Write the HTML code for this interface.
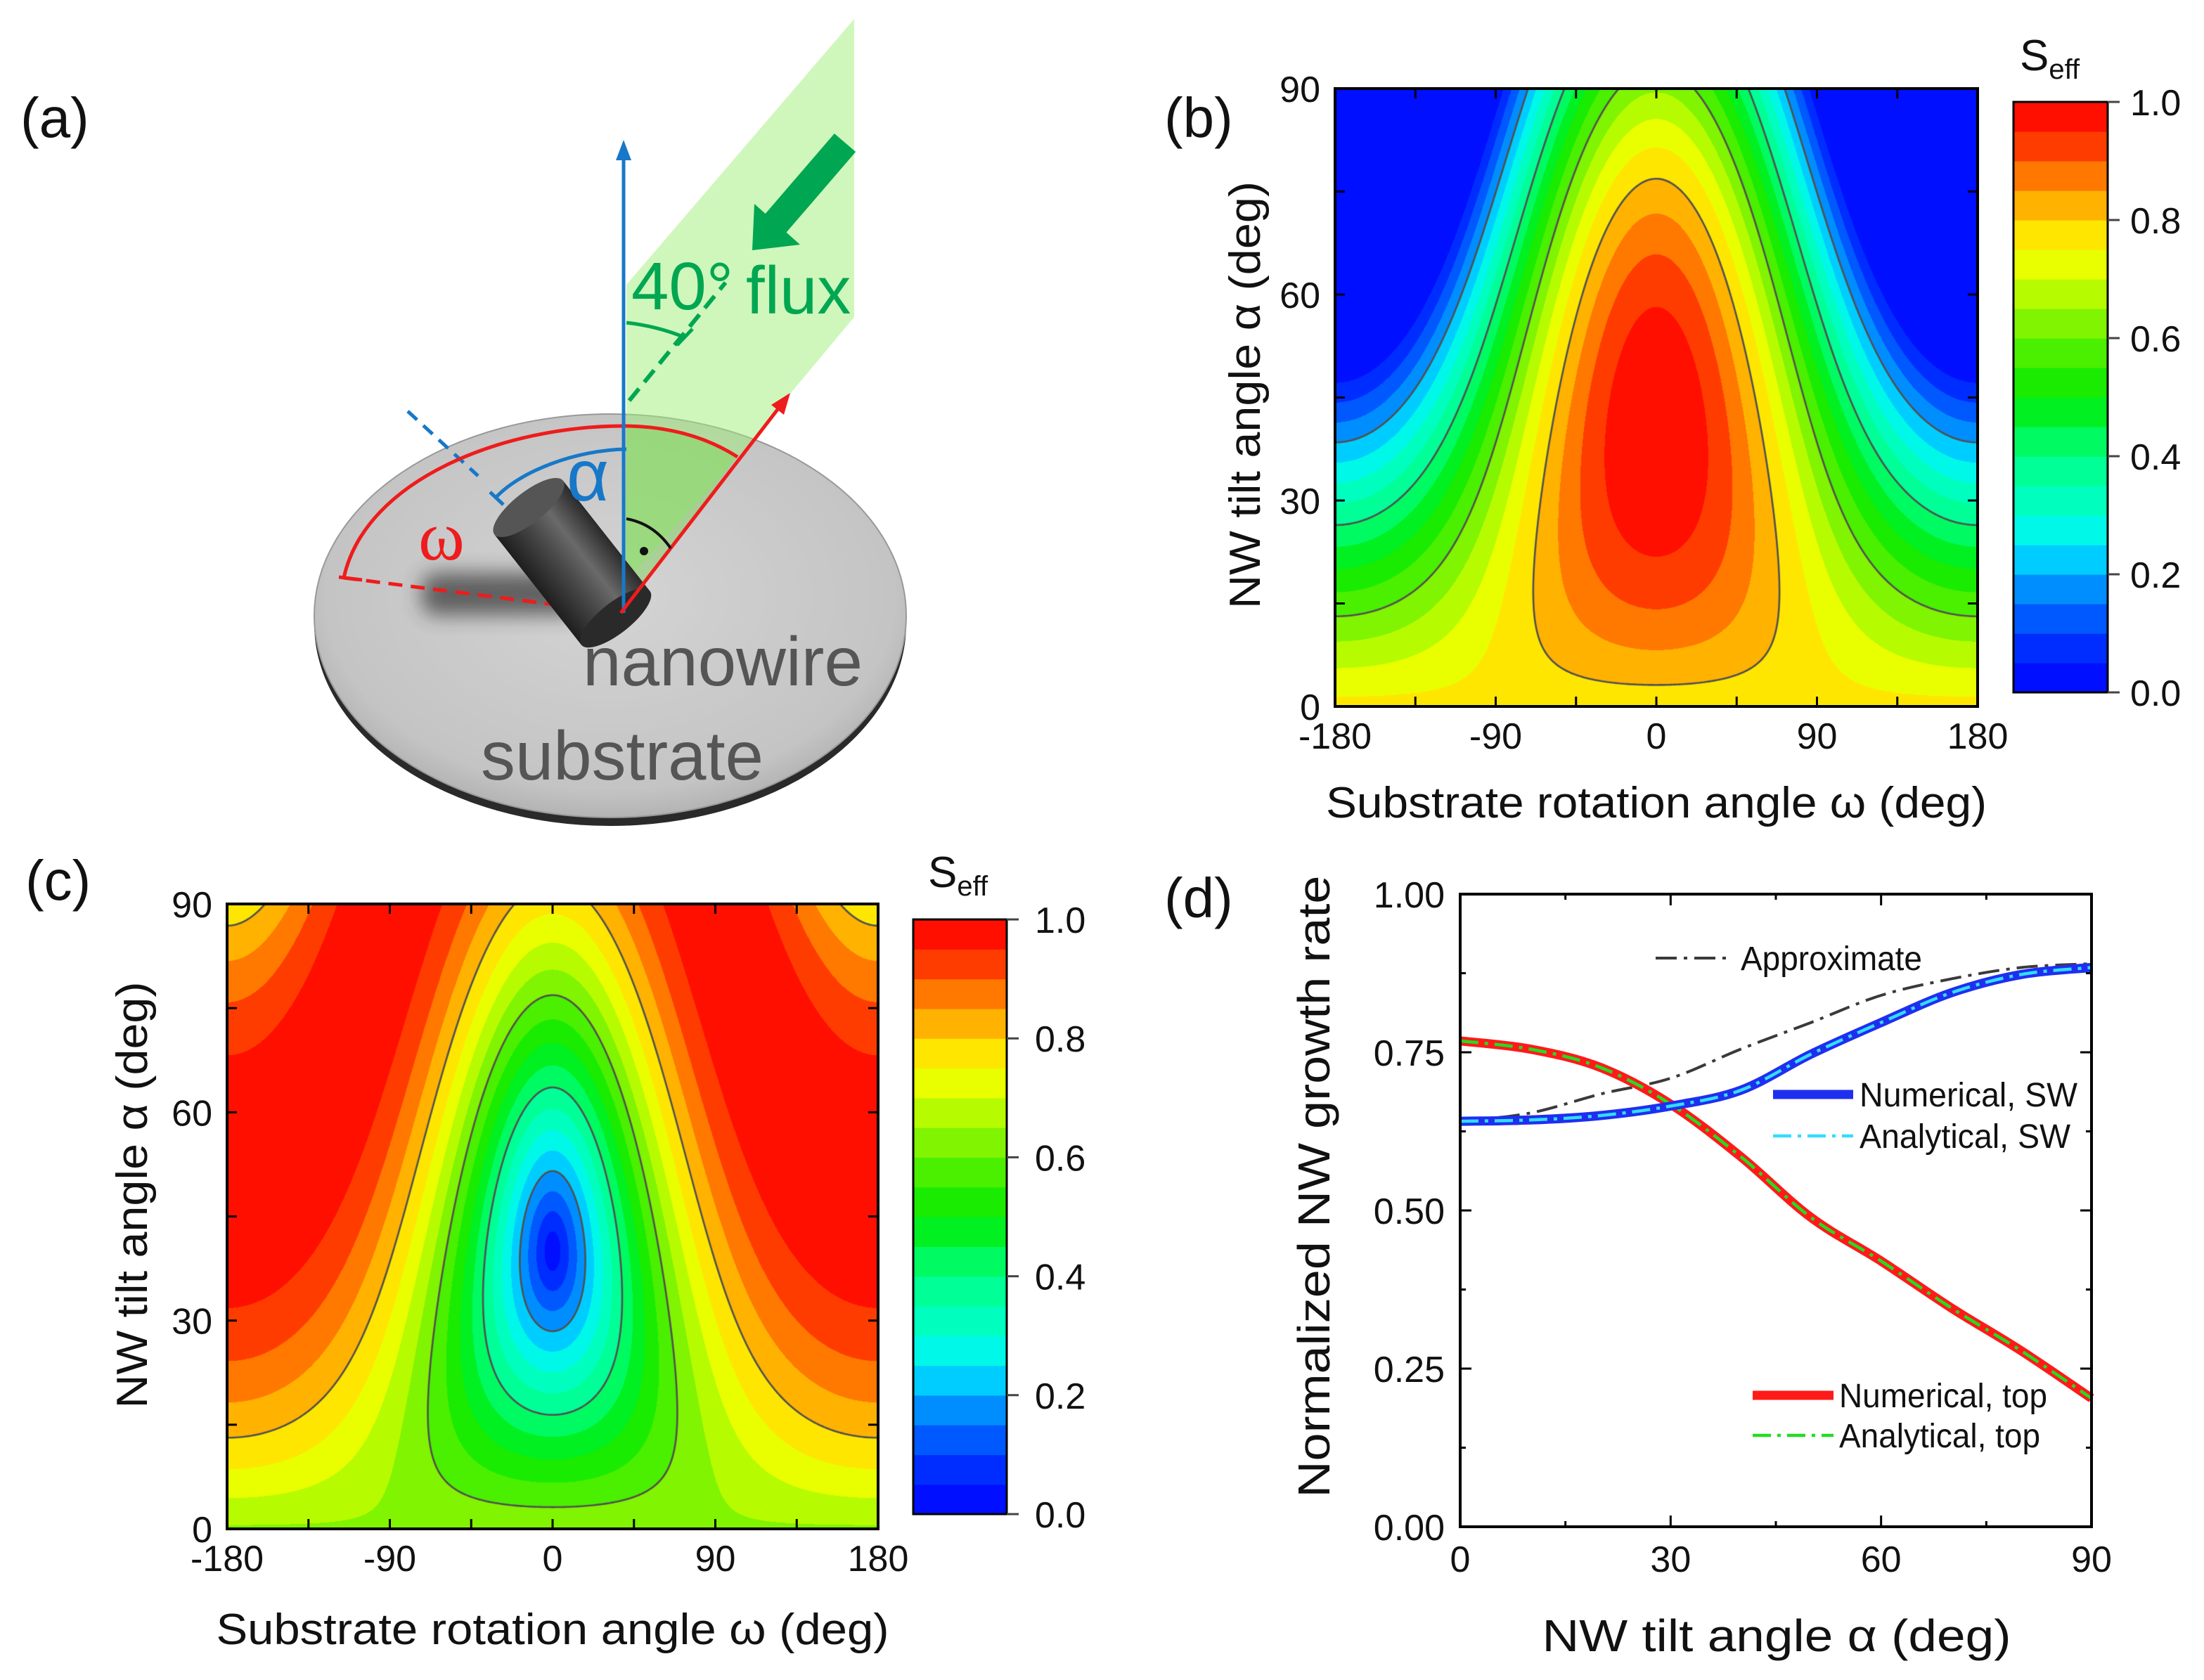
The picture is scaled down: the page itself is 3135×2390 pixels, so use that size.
<!DOCTYPE html>
<html><head><meta charset="utf-8">
<style>
html,body{margin:0;padding:0;background:#fff;}
#root{position:relative;width:3135px;height:2390px;overflow:hidden;background:#fff;}
canvas{position:absolute;}
#fig{position:absolute;left:0;top:0;}
text{font-family:"Liberation Sans",sans-serif;}
</style></head>
<body>
<div id="root">
<canvas id="hb" width="914" height="879" style="left:1899px;top:126px"></canvas>
<canvas id="hc" width="926" height="889" style="left:323px;top:1286px"></canvas>
<svg id="fig" width="3135" height="2390" viewBox="0 0 3135 2390">
<defs>
<radialGradient id="diskGrad" cx="0.5" cy="0.45" r="0.6">
<stop offset="0" stop-color="#d4d4d4"/><stop offset="0.8" stop-color="#c4c4c4"/><stop offset="1" stop-color="#a8a8a8"/>
</radialGradient>
<linearGradient id="cylGrad" x1="0" y1="0" x2="0" y2="1">
<stop offset="0" stop-color="#2a2a2a"/><stop offset="0.35" stop-color="#6a6a6a"/><stop offset="0.6" stop-color="#4a4a4a"/><stop offset="1" stop-color="#1e1e1e"/>
</linearGradient>
<filter id="blur" x="-50%" y="-50%" width="200%" height="200%"><feGaussianBlur stdDeviation="14"/></filter>
</defs>

<g>
<text x="29" y="195" font-size="80" fill="#111">(a)</text>
<ellipse cx="868" cy="888" rx="421" ry="287" fill="#2a2a2a"/>
<ellipse cx="868" cy="876" rx="421" ry="287" fill="url(#diskGrad)" stroke="#999" stroke-width="2"/>
<rect x="600" y="815" width="230" height="60" rx="20" fill="#333" opacity="0.7" filter="url(#blur)"/>
<polygon points="891,405 1215,27 1215,451 1049,650 891,826" fill="rgba(160,240,120,0.5)"/>
<path d="M891,608 C960,610 1010,625 1049,650 L887,872 Z" fill="rgba(120,210,80,0.45)"/>
<line x1="489" y1="822" x2="883" y2="872" stroke="#ee1c1c" stroke-width="5" stroke-dasharray="20 12"/>
<line x1="580" y1="585" x2="680" y2="677" stroke="#1878c8" stroke-width="5" stroke-dasharray="18 12"/>
<line x1="895" y1="570" x2="1032" y2="402" stroke="#00a651" stroke-width="6" stroke-dasharray="22 12"/>
<path d="M489,822 C520,680 720,605 891,606 C960,607 1010,625 1049,650" fill="none" stroke="#ee1c1c" stroke-width="5"/>
<line x1="482" y1="821" x2="515" y2="825" stroke="#ee1c1c" stroke-width="5"/>
<path d="M705,708 C740,670 820,640 891,639" fill="none" stroke="#1878c8" stroke-width="5"/>
<line x1="697" y1="700" x2="716" y2="718" stroke="#1878c8" stroke-width="5"/>
<path d="M891,459 Q935,464 974,480" fill="none" stroke="#00a651" stroke-width="5"/>
<line x1="963" y1="491" x2="985" y2="468" stroke="#00a651" stroke-width="5"/>
<g transform="translate(752,722) rotate(51.8)">
<rect x="0" y="-62" width="200" height="124" fill="url(#cylGrad)"/>
<ellipse cx="200" cy="0" rx="22" ry="62" fill="#2a2a2a"/>
<ellipse cx="0" cy="0" rx="22" ry="62" fill="#555"/>
</g>
<line x1="887" y1="872" x2="887" y2="222" stroke="#1878c8" stroke-width="5"/>
<polygon points="887,199 876,228 898,228" fill="#1878c8"/>
<line x1="883" y1="872" x2="1108" y2="580" stroke="#ee1c1c" stroke-width="5"/>
<polygon points="1124,559 1115,590 1097,576" fill="#ee1c1c"/>
<path d="M891,738 Q930,745 954,780" fill="none" stroke="#111" stroke-width="4"/>
<circle cx="916" cy="784" r="6" fill="#111"/>
<line x1="1202" y1="203" x2="1103" y2="318" stroke="#00a651" stroke-width="40"/>
<polygon points="1070,356 1138,348 1073,290" fill="#00a651"/>
<text x="898" y="440" font-size="96" fill="#00a651">40°</text>
<text x="1061" y="446" font-size="96" fill="#00a651">flux</text>
<text x="806" y="712" font-size="104" fill="#1878c8">α</text>
<text x="595" y="796" font-size="100" fill="#ee1c1c" style="font-family:'Liberation Serif',serif">ω</text>
<text x="829" y="975" font-size="98" fill="#555" textLength="398" lengthAdjust="spacingAndGlyphs">nanowire</text>
<text x="684" y="1109" font-size="98" fill="#555" textLength="402" lengthAdjust="spacingAndGlyphs">substrate</text>
</g>

<text x="1656" y="195" font-size="80" fill="#111">(b)</text>
<text x="36" y="1280" font-size="80" fill="#111">(c)</text>
<text x="1656" y="1305" font-size="80" fill="#111">(d)</text>
<g id="gb"></g>
<g id="gc"></g>
<g id="gd"></g>
</svg>
</div>
<script>
const fluxAngleDeg = [40];
const omegaRange = [-180, 180];
const alphaRange = [0, 90];
const omegaTickValues = [-180, -90, 0, 90, 180];
const omegaTickLabels = ['-180', '-90', '0', '90', '180'];
const omegaMinorTicks = [-135, -45, 45, 135];
const alphaTickValues = [0, 30, 60, 90];
const alphaTickLabels = ['0', '30', '60', '90'];
const alphaMinorTicks = [15, 45, 75];
const cbTickValues = [0, 0.2, 0.4, 0.6, 0.8, 1.0];
const cbTickLabels = ['0.0', '0.2', '0.4', '0.6', '0.8', '1.0'];
const contourLevels = [0.2, 0.4, 0.6, 0.8];
const nLevels = [20];

const dAlpha = [0, 10, 20, 30, 40, 50, 60, 70, 80, 90];
const numTop = [0.768, 0.755, 0.726, 0.668, 0.585, 0.489, 0.42, 0.346, 0.278, 0.203];
const anaTop = [0.768, 0.755, 0.726, 0.668, 0.585, 0.489, 0.42, 0.346, 0.278, 0.203];
const numSW = [0.641, 0.643, 0.65, 0.665, 0.69, 0.747, 0.797, 0.844, 0.873, 0.884];
const anaSW = [0.641, 0.643, 0.65, 0.665, 0.69, 0.747, 0.797, 0.844, 0.873, 0.884];
const approxSW = [0.641, 0.654, 0.684, 0.709, 0.755, 0.797, 0.84, 0.866, 0.884, 0.89];
const dYTicks = [0, 0.25, 0.5, 0.75, 1.0];
const dYTickLabels = ['0.00', '0.25', '0.50', '0.75', '1.00'];
const dYMinor = [0.125, 0.375, 0.625, 0.875];
const dXTicks = [0, 30, 60, 90];
const dXTickLabels = ['0', '30', '60', '90'];
const dXMinor = [15, 45, 75];

const NS = 'http://www.w3.org/2000/svg';
const anchors = [[0,0,0,255],[0.1,0,60,255],[0.2,0,170,255],[0.25,0,240,255],[0.3,0,255,210],[0.4,0,255,130],[0.5,0,235,0],[0.6,100,240,0],[0.7,210,255,0],[0.75,255,255,0],[0.8,255,205,0],[0.85,255,150,0],[0.9,255,90,0],[0.95,255,30,0],[1,255,0,0]];
function cmap(v){
  for(let i=1;i<anchors.length;i++){
    if(v<=anchors[i][0]){const a=anchors[i-1],b=anchors[i];const t=(v-a[0])/(b[0]-a[0]);
      return [0,1,2].map(k=>Math.round(a[k+1]+(b[k+1]-a[k+1])*t));}
  }
  return [255,0,0];
}
const NL = nLevels[0];
const bandColors = [];
for(let i=0;i<NL;i++) bandColors.push(cmap((i+0.5)/NL));

const rad = Math.PI/180;
function cosTheta(alpha, omega){
  const f = fluxAngleDeg[0]*rad;
  return Math.sin(alpha*rad)*Math.sin(f)*Math.cos(omega*rad) + Math.cos(alpha*rad)*Math.cos(f);
}
function topEff(a,o){ return Math.max(0, cosTheta(a,o)); }
function swEff(a,o){ const c=cosTheta(a,o); return Math.sqrt(Math.max(0,1-c*c)); }

function el(tag, attrs, parent){
  const e=document.createElementNS(NS,tag);
  for(const k in attrs) e.setAttribute(k, attrs[k]);
  if(parent) parent.appendChild(e);
  return e;
}
function txt(parent, x, y, s, size, anchor, extra){
  const t=el('text',{x:x,y:y,'font-size':size,'text-anchor':anchor||'start',fill:'#111'},parent);
  if(extra) for(const k in extra) t.setAttribute(k, extra[k]);
  t.textContent=s;
  return t;
}

function drawHeatmap(canvasId, fn){
  const cv=document.getElementById(canvasId), ctx=cv.getContext('2d');
  const W=cv.width, H=cv.height;
  const xToOmega = x => omegaRange[0] + (x/W)*(omegaRange[1]-omegaRange[0]);
  const yToAlpha = y => alphaRange[1] - (y/H)*(alphaRange[1]-alphaRange[0]);
  const img=ctx.createImageData(W,H);
  for(let y=0;y<H;y++){
    const a=yToAlpha(y+0.5);
    for(let x=0;x<W;x++){
      const v=fn(a, xToOmega(x+0.5));
      let lv=Math.floor(v*NL); if(lv>NL-1) lv=NL-1; if(lv<0) lv=0;
      const c=bandColors[lv], i=(y*W+x)*4;
      img.data[i]=c[0]; img.data[i+1]=c[1]; img.data[i+2]=c[2]; img.data[i+3]=255;
    }
  }
  ctx.putImageData(img,0,0);
  const step=3, nx=Math.ceil(W/step), ny=Math.ceil(H/step);
  const g=[];
  for(let j=0;j<=ny;j++){const row=[];for(let i=0;i<=nx;i++){row.push(fn(yToAlpha(Math.min(H,j*step)), xToOmega(Math.min(W,i*step))));}g.push(row);}
  ctx.strokeStyle='#505050'; ctx.lineWidth=2.6; ctx.lineCap='round';
  for(const L of contourLevels){
    ctx.beginPath();
    for(let j=0;j<ny;j++)for(let i=0;i<nx;i++){
      const tl=g[j][i],tr=g[j][i+1],br=g[j+1][i+1],bl=g[j+1][i];
      const code=(tl>L?8:0)|(tr>L?4:0)|(br>L?2:0)|(bl>L?1:0);
      if(code===0||code===15) continue;
      const x0=i*step,y0=j*step;
      const T=[x0+step*(L-tl)/(tr-tl),y0], R=[x0+step,y0+step*(L-tr)/(br-tr)];
      const B=[x0+step*(L-bl)/(br-bl),y0+step], Lf=[x0,y0+step*(L-tl)/(bl-tl)];
      const segs={1:[[Lf,B]],2:[[B,R]],3:[[Lf,R]],4:[[T,R]],5:[[Lf,T],[B,R]],6:[[T,B]],7:[[Lf,T]],8:[[Lf,T]],9:[[T,B]],10:[[T,R],[Lf,B]],11:[[T,R]],12:[[Lf,R]],13:[[B,R]],14:[[Lf,B]]}[code];
      for(const s of segs){ctx.moveTo(s[0][0],s[0][1]);ctx.lineTo(s[1][0],s[1][1]);}
    }
    ctx.stroke();
  }
}

function drawMapAxes(gid, P){
  const g=document.getElementById(gid);
  const sx=o=>P.x0+(o-omegaRange[0])/(omegaRange[1]-omegaRange[0])*P.w;
  const sy=a=>P.y0+P.h-(a-alphaRange[0])/(alphaRange[1]-alphaRange[0])*P.h;
  const tl=14;
  const allO=omegaTickValues.concat(omegaMinorTicks), allA=alphaTickValues.concat(alphaMinorTicks);
  for(const o of allO){
    const x=sx(o);
    const t1=el('line',{x1:x,y1:P.y0+P.h,x2:x,y2:P.y0+P.h-tl,stroke:'#000','stroke-width':3},g);
     
    const t2=el('line',{x1:x,y1:P.y0,x2:x,y2:P.y0+tl,stroke:'#000','stroke-width':3},g);
     
  }
  for(const a of allA){
    const y=sy(a);
    const t1=el('line',{x1:P.x0,y1:y,x2:P.x0+tl,y2:y,stroke:'#000','stroke-width':3},g);
     
    const t2=el('line',{x1:P.x0+P.w,y1:y,x2:P.x0+P.w-tl,y2:y,stroke:'#000','stroke-width':3},g);
     
  }
  const fr=el('rect',{x:P.x0,y:P.y0,width:P.w,height:P.h,fill:'none',stroke:'#000','stroke-width':4},g);
   
  omegaTickValues.forEach((o,i)=>{
    const t=txt(g,sx(o),P.y0+P.h+60,omegaTickLabels[i],52,'middle');
     
  });
  alphaTickValues.forEach((a,i)=>{
    const t=txt(g,P.x0-21,sy(a)+19,alphaTickLabels[i],52,'end');
     
  });
  const xt=txt(g,P.x0+P.w/2,P.xTitleY,'Substrate rotation angle ω (deg)',62,'middle',{textLength:P.xTitleLen,lengthAdjust:'spacingAndGlyphs'});
   
  const yt=txt(g,P.yTitleX,P.yTitleCy+22,'NW tilt angle α (deg)',62,'middle',{textLength:P.yTitleLen,lengthAdjust:'spacingAndGlyphs',transform:'rotate(-90 '+P.yTitleX+' '+P.yTitleCy+')'});
   
  const C=P.cb;
  const cy=v=>C.y+C.h-v*C.h;
  for(let i=0;i<NL;i++){
    const c=bandColors[i];
    const r=el('rect',{x:C.x,y:cy((i+1)/NL),width:C.w,height:C.h/NL+0.6,fill:'rgb('+c.join(',')+')'},g);
     
  }
  const cf=el('rect',{x:C.x,y:C.y,width:C.w,height:C.h,fill:'none',stroke:'#000','stroke-width':3},g);
   
  cbTickValues.forEach((v,i)=>{
    const l=el('line',{x1:C.x+C.w,y1:cy(v),x2:C.x+C.w+17,y2:cy(v),stroke:'#444','stroke-width':3},g);
     
    const t=txt(g,C.labelX,cy(v)+19,cbTickLabels[i],52,'start');
     
  });
  const st=txt(g,C.titleX,C.titleY,'S',62,'start');
   
  const sub=el('tspan',{'font-size':40,dy:12},st); sub.textContent='eff';
}

drawHeatmap('hb', topEff);
drawHeatmap('hc', swEff);
drawMapAxes('gb',{x0:1899,y0:126,w:914,h:879,xTitleY:1163,xTitleLen:940,yTitleX:1770,yTitleCy:562,yTitleLen:608,
  cb:{x:2864,y:145,w:134,h:840,labelX:3030,titleX:2873,titleY:100}});
drawMapAxes('gc',{x0:323,y0:1286,w:926,h:889,xTitleY:2339,xTitleLen:957,yTitleX:187,yTitleCy:1700,yTitleLen:607,
  cb:{x:1299,y:1308,w:133,h:846,labelX:1472,titleX:1320,titleY:1262}});

(function(){
  const g=document.getElementById('gd');
  const X0=2077,X1=2975,Y0=1272,Y1=2172;
  const sx=a=>X0+(a-0)/90*(X1-X0);
  const sy=v=>Y1-(v-0)/1*(Y1-Y0);
  function pathFrom(xs, ys){
    const p=xs.map((x,i)=>[sx(x),sy(ys[i])]);
    let d='M'+p[0][0].toFixed(1)+','+p[0][1].toFixed(1);
    for(let i=0;i<p.length-1;i++){
      const p0=p[Math.max(0,i-1)],p1=p[i],p2=p[i+1],p3=p[Math.min(p.length-1,i+2)];
      const c1=[p1[0]+(p2[0]-p0[0])/6,p1[1]+(p2[1]-p0[1])/6], c2=[p2[0]-(p3[0]-p1[0])/6,p2[1]-(p3[1]-p1[1])/6];
      d+=' C'+c1[0].toFixed(1)+','+c1[1].toFixed(1)+' '+c2[0].toFixed(1)+','+c2[1].toFixed(1)+' '+p2[0].toFixed(1)+','+p2[1].toFixed(1);
    }
    return d;
  }
  const series=[
    {ys:approxSW,stroke:'#3a3a3a',w:4,dash:'30 10 5 10',name:'approximate-line'},
    {ys:numTop,stroke:'#ff1a1a',w:13,dash:'',name:'numerical-top-line'},
    {ys:anaTop,stroke:'#22dd22',w:4.5,dash:'26 9 5 9',name:'analytical-top-line'},
    {ys:numSW,stroke:'#1f2ff0',w:13,dash:'',name:'numerical-sw-line'},
    {ys:anaSW,stroke:'#33ddff',w:4.5,dash:'26 9 5 9',name:'analytical-sw-line'}
  ];
  for(const s of series){
    const p=el('path',{d:pathFrom(dAlpha,s.ys),fill:'none',stroke:s.stroke,'stroke-width':s.w,'stroke-linecap':'butt','stroke-dasharray':s.dash||'none'},g);
    
    
  }
  const ticks=(vals,len,isY)=>{
    for(const v of vals){
      if(isY){
        const y=sy(v);
        const a=el('line',{x1:X0,y1:y,x2:X0+len,y2:y,stroke:'#000','stroke-width':3},g);
         
        const b=el('line',{x1:X1,y1:y,x2:X1-len,y2:y,stroke:'#000','stroke-width':3},g);
         
      } else {
        const x=sx(v);
        const a=el('line',{x1:x,y1:Y1,x2:x,y2:Y1-len,stroke:'#000','stroke-width':3},g);
         
        const b=el('line',{x1:x,y1:Y0,x2:x,y2:Y0+len,stroke:'#000','stroke-width':3},g);
         
      }
    }
  };
  ticks(dYTicks,16,true); ticks(dYMinor,8,true); ticks(dXTicks,16,false); ticks(dXMinor,8,false);
  const fr=el('rect',{x:X0,y:Y0,width:X1-X0,height:Y1-Y0,fill:'none',stroke:'#000','stroke-width':4},g);
   
  dYTicks.forEach((v,i)=>{const t=txt(g,2055,sy(v)+19,dYTickLabels[i],52,'end');
     });
  dXTicks.forEach((v,i)=>{const t=txt(g,sx(v),2236,dXTickLabels[i],52,'middle');
     });
  const xt=txt(g,2527,2349,'NW tilt angle α (deg)',64,'middle',{textLength:667,lengthAdjust:'spacingAndGlyphs'});
   
  const yt=txt(g,1869,1688+22,'Normalized NW growth rate',64,'middle',{textLength:885,lengthAdjust:'spacingAndGlyphs',transform:'rotate(-90 1869 1688)'});
   
  const leg=[
    {x1:2355,x2:2465,y:1363,stroke:'#3a3a3a',w:4,dash:'30 10 5 10',tx:2476,label:'Approximate',len:258},
    {x1:2522,x2:2636,y:1557,stroke:'#1f2ff0',w:13,dash:'',tx:2645,label:'Numerical, SW',len:310},
    {x1:2522,x2:2636,y:1616,stroke:'#33ddff',w:4.5,dash:'26 9 5 9',tx:2645,label:'Analytical, SW',len:300},
    {x1:2493,x2:2608,y:1985,stroke:'#ff1a1a',w:13,dash:'',tx:2616,label:'Numerical, top',len:296},
    {x1:2493,x2:2608,y:2042,stroke:'#22dd22',w:4.5,dash:'26 9 5 9',tx:2616,label:'Analytical, top',len:286}
  ];
  for(const L of leg){
    const l=el('line',{x1:L.x1,y1:L.y,x2:L.x2,y2:L.y,stroke:L.stroke,'stroke-width':L.w,'stroke-dasharray':L.dash||'none'},g);
    
    
    const t=txt(g,L.tx,L.y+17,L.label,48,'start',{textLength:L.len,lengthAdjust:'spacingAndGlyphs'});
    
    
  }
})();
</script>
</body></html>
